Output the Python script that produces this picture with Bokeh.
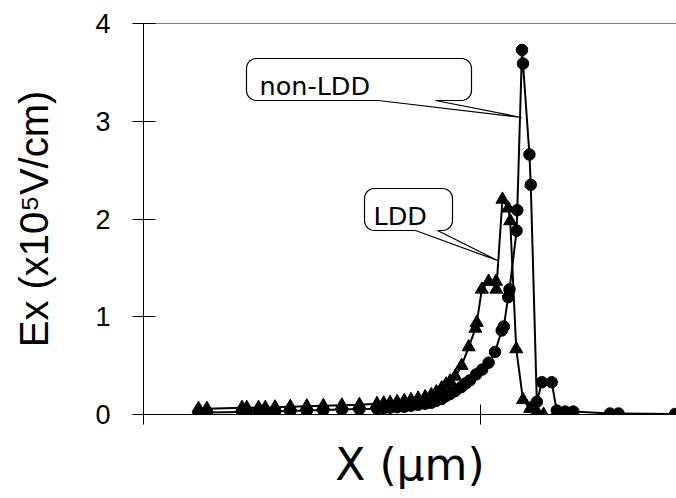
import numpy as np
from bokeh.plotting import figure
from bokeh.models import FixedTicker, Label, Span, Range1d
from bokeh.embed import file_html
from bokeh.resources import INLINE

# ---------------- data ----------------
# X position (um) and field Ex (x10^5 V/cm)
x_ldd = [0.163, 0.188, 0.292, 0.306, 0.341, 0.361, 0.390, 0.435, 0.484, 0.533,
         0.588, 0.640, 0.692, 0.712, 0.731, 0.752, 0.773, 0.793, 0.814, 0.835,
         0.853, 0.868, 0.884, 0.897, 0.909, 0.924, 0.943, 0.964, 0.984, 0.988,
         1.003, 1.023, 1.045, 1.046, 1.064, 1.081, 1.087, 1.105, 1.125, 1.146,
         1.166, 1.186]
ex_ldd = [0.06, 0.06, 0.07, 0.07, 0.07, 0.07, 0.075, 0.08, 0.085, 0.09,
          0.095, 0.10, 0.11, 0.115, 0.12, 0.13, 0.14, 0.15, 0.165, 0.18,
          0.20, 0.23, 0.27, 0.31, 0.34, 0.39, 0.50, 0.69, 0.88, 0.94,
          1.28, 1.36, 1.36, 1.28, 2.20, 2.11, 1.98, 0.67, 0.15, 0.06,
          0.03, 0.0]

x_non = [0.163, 0.188, 0.292, 0.306, 0.341, 0.361, 0.390, 0.435, 0.484, 0.533,
         0.588, 0.640, 0.692, 0.712, 0.731, 0.752, 0.773, 0.793, 0.814, 0.835,
         0.853, 0.868, 0.884, 0.897, 0.909, 0.924, 0.942, 0.956, 0.968, 0.986,
         1.004, 1.023, 1.042, 1.062, 1.068, 1.081, 1.085, 1.106, 1.108, 1.122,
         1.125, 1.144, 1.148, 1.166, 1.181, 1.210, 1.225, 1.250, 1.274, 1.383,
         1.408, 1.576]
ex_non = [0.02, 0.02, 0.025, 0.025, 0.03, 0.03, 0.03, 0.035, 0.04, 0.045,
          0.05, 0.055, 0.06, 0.065, 0.07, 0.075, 0.08, 0.09, 0.10, 0.11,
          0.12, 0.14, 0.16, 0.19, 0.21, 0.24, 0.28, 0.32, 0.35, 0.41,
          0.46, 0.53, 0.64, 0.86, 0.90, 1.20, 1.28, 1.88, 2.09, 3.73,
          3.59, 2.66, 2.35, 0.13, 0.33, 0.33, 0.04, 0.03, 0.03, 0.01,
          0.01, 0.005]

y_ticks = [0, 1, 2, 3, 4]
x_ticks = [0, 1.0]
label_non = "non-LDD"
label_ldd = "LDD"
x_title = "X (\u03bcm)"
y_title = "Ex (x10\u2075V/cm)"

# ---------------- layout ----------------
X0, X1 = 0.0, 1.58
Y0, Y1 = 0.0, 4.0
W, H = 676, 498
MB_L, MB_T, MB_B = 143, 23, 84
# pixel geometry of the frame
PL, PR = MB_L, W
PT, PB = MB_T, H - MB_B


def gx(px):
    return X0 + (px - PL) / (PR - PL) * (X1 - X0)


def gy(py):
    return Y0 + (PB - py) / (PB - PT) * (Y1 - Y0)


p = figure(width=W, height=H, x_range=Range1d(X0, X1), y_range=Range1d(Y0, Y1),
           output_backend="svg", toolbar_location=None,
           min_border_left=MB_L, min_border_right=0,
           min_border_top=MB_T, min_border_bottom=MB_B)
p.grid.visible = False
p.outline_line_color = None
p.background_fill_color = "white"
p.border_fill_color = "white"

# y axis
p.yaxis.ticker = FixedTicker(ticks=y_ticks)
p.yaxis.major_tick_in = 12
p.yaxis.major_tick_out = 11
p.yaxis.minor_tick_line_color = None
p.yaxis.major_label_standoff = 22
p.yaxis.major_label_text_font = "Liberation Sans"
p.yaxis.major_label_text_font_size = "27px"
p.yaxis.major_label_text_color = "black"
p.yaxis.axis_line_color = "black"
p.yaxis.major_tick_line_color = "black"
p.yaxis.axis_label = y_title
p.yaxis.axis_label_text_font = "Liberation Sans"
p.yaxis.axis_label_text_font_size = "40px"
p.yaxis.axis_label_text_font_style = "normal"
p.yaxis.axis_label_text_color = "black"
p.yaxis.axis_label_standoff = 36

# x axis
p.xaxis.ticker = FixedTicker(ticks=x_ticks)
p.xaxis.major_tick_in = 10
p.xaxis.major_tick_out = 10
p.xaxis.minor_tick_line_color = None
p.xaxis.major_label_overrides = {0: "", 1: ""}
p.xaxis.major_label_text_font_size = "1px"
p.xaxis.major_label_standoff = 0
p.xaxis.axis_line_color = "black"
p.xaxis.major_tick_line_color = "black"
p.xaxis.axis_label = x_title
p.xaxis.axis_label_text_font = "DejaVu Sans"
p.xaxis.axis_label_text_font_size = "44px"
p.xaxis.axis_label_text_font_style = "normal"
p.xaxis.axis_label_text_color = "black"
p.xaxis.axis_label_standoff = 14

# top frame line
p.add_layout(Span(location=Y1, dimension="width", line_color="black", line_width=1))

# data
p.line(x_ldd, ex_ldd, line_color="black", line_width=2)
p.line(x_non, ex_non, line_color="black", line_width=2)
p.scatter(x_ldd, ex_ldd, marker="triangle", size=13, fill_color="black", line_color="black")
p.scatter(x_non, ex_non, marker="circle", size=11.5, fill_color="black", line_color="black")


# callouts (speech bubbles), geometry in canvas pixels
def bubble(l, t, r, b, b1, b2, tx, ty, rad=10):
    pts = []

    def arc(cx, cy, a0, a1):
        for a in np.linspace(a0, a1, 8):
            pts.append((cx + rad * np.cos(a), cy - rad * np.sin(a)))

    arc(l + rad, t + rad, np.pi, np.pi / 2)
    arc(r - rad, t + rad, np.pi / 2, 0)
    arc(r - rad, b - rad, 0, -np.pi / 2)
    pts.append((b2, b))
    pts.append((tx, ty))
    pts.append((b1, b))
    arc(l + rad, b - rad, -np.pi / 2, -np.pi)
    xs = [gx(a) for a, _ in pts]
    ys = [gy(c) for _, c in pts]
    p.patch(xs, ys, fill_color="white", line_color="black", line_width=1.2)


bubble(246, 58, 471, 100, 378, 435, 521, 117)
bubble(364, 188, 452, 230, 415, 437, 497, 260)

p.add_layout(Label(x=gx(259), y=gy(85), text=label_non, text_font="DejaVu Sans",
                   text_font_size="25.5px", text_color="black",
                   text_align="left", text_baseline="alphabetic"))
p.add_layout(Label(x=gx(373), y=gy(215), text=label_ldd, text_font="DejaVu Sans",
                   text_font_size="25.5px", text_color="black",
                   text_align="left", text_baseline="alphabetic"))

open("out.html", "w").write(file_html(p, INLINE))
